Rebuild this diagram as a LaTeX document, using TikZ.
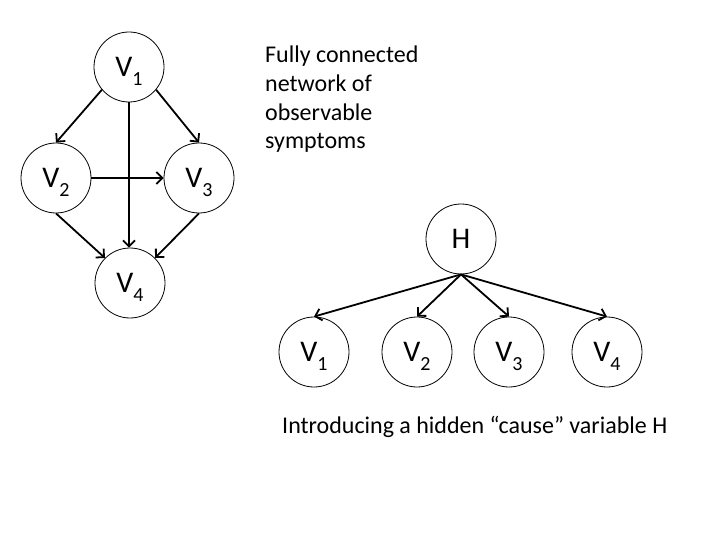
\documentclass[tikz,border=0pt]{standalone}
\usepackage{fontspec}
\setmainfont{Carlito}
\usetikzlibrary{arrows.meta}
\newcommand{\vname}[1]{V\raisebox{-0.28em}[0pt][0pt]{\fontsize{20}{20}\selectfont #1}}

\begin{document}
\begin{tikzpicture}[x=1pt,y=-1pt,
    var/.style={draw,circle,minimum size=70pt,inner sep=0pt,line width=0.8pt,
      font=\fontsize{30}{30}\selectfont},
    edge/.style={line width=1.8pt,-{Straight Barb[length=6pt,width=12pt]}},
    txt/.style={inner sep=0pt,font=\fontsize{24}{28.7}\selectfont}]
  \useasboundingbox (0,0) rectangle (720,540);
  % fully connected network
  \node[var] (a1) at (129,67) {\vname{1}};
  \node[var] (a2) at (56,178) {\vname{2}};
  \node[var] (a3) at (199,178) {\vname{3}};
  \node[var] (a4) at (130,283) {\vname{4}};
  \draw[edge] (a1.220) -- (a2.north);
  \draw[edge] (a1.-40) -- (a3.north);
  \draw[edge] (a1.south) -- (a1.south |- a4.north);
  \draw[edge] (a2) -- (a3);
  \draw[edge] (a2.south) -- (a4.135);
  \draw[edge] (a3.south) -- (a4.45);
  \node[txt,anchor=north west,align=left] (note) at (265,46)
    {Fully connected\\network of\\observable\\symptoms};
  % hidden cause
  \node[var] (h) at (461,239) {H};
  \node[var] (b1) at (314,352) {\vname{1}};
  \node[var] (b2) at (417,352) {\vname{2}};
  \node[var] (b3) at (509,352) {\vname{3}};
  \node[var] (b4) at (607,352) {\vname{4}};
  \foreach \i in {1,...,4}
    \draw[edge] (h.south) -- (b\i.north);
  \node[txt,anchor=base west] (cap) at (282,433)
    {Introducing a hidden “cause” variable H};
\end{tikzpicture}
\end{document}
